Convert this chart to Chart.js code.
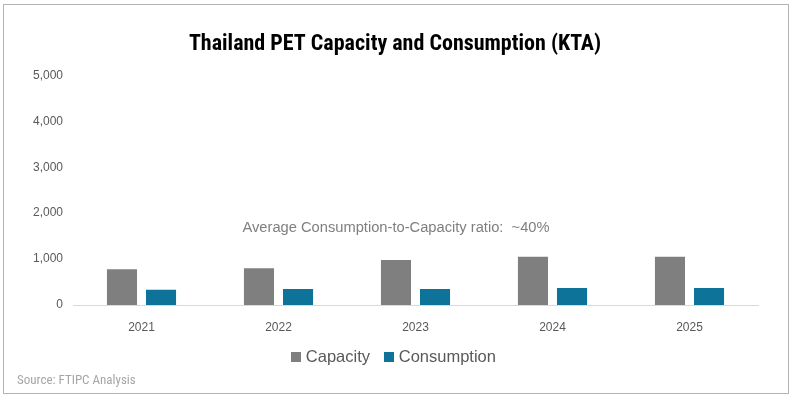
<!DOCTYPE html>
<html>
<head>
<meta charset="utf-8">
<script src="https://cdn.jsdelivr.net/npm/chart.js@4"></script>
<style>
  html, body { margin: 0; padding: 0; background: #fff; }
  #wrap { width: 792px; height: 397px; position: relative; }
</style>
</head>
<body>
<div id="wrap"><canvas id="c" width="792" height="397"></canvas></div>
<script>
// ---- data ----
const categories = ["2021", "2022", "2023", "2024", "2025"];
const capacity = [780, 800, 980, 1050, 1050];
const consumption = [330, 350, 350, 370, 370];
const yTicks = [0, 1000, 2000, 3000, 4000, 5000];
const seriesNames = ["Capacity", "Consumption"];
const seriesColors = ["#7f7f7f", "#0e7398"];
const titleText = "Thailand PET Capacity and Consumption (KTA)";
const sourceText = "Source: FTIPC Analysis";
const annotationText = "Average Consumption-to-Capacity ratio:  ~40%";
const annotationValue = 1670;

const NARROW = "'Liberation Sans Narrow', 'Arial Narrow', 'Roboto Condensed', 'Liberation Sans', sans-serif";
const REG = "'Liberation Sans', Arial, sans-serif";

function swatch(color) {
  const c = document.createElement('canvas');
  c.width = 10; c.height = 10;
  const g = c.getContext('2d');
  g.fillStyle = color;
  g.fillRect(0, 0, 10, 10);
  return c;
}
const swatches = seriesColors.map(swatch);

const framePlugin = {
  id: 'frame',
  beforeDraw(chart) {
    const ctx = chart.ctx;
    ctx.save();
    ctx.fillStyle = '#ffffff';
    ctx.fillRect(0, 0, chart.width, chart.height);
    ctx.strokeStyle = '#b4b4b4';
    ctx.lineWidth = 1;
    ctx.strokeRect(3.5, 4.5, 785, 389);
    ctx.restore();
  },
  afterDraw(chart) {
    const ctx = chart.ctx;
    ctx.save();
    ctx.font = "13px " + NARROW;
    ctx.fillStyle = '#a6a6a6';
    ctx.textAlign = 'left';
    ctx.textBaseline = 'middle';
    ctx.fillText(sourceText, 17, 381);
    ctx.restore();
  }
};

const annotationPlugin = {
  id: 'ratioNote',
  afterDatasetsDraw(chart) {
    const ctx = chart.ctx;
    const y = chart.scales.y.getPixelForValue(annotationValue);
    ctx.save();
    ctx.font = "14.7px " + REG;
    ctx.fillStyle = '#7f7f7f';
    ctx.textAlign = 'center';
    ctx.textBaseline = 'middle';
    ctx.fillText(annotationText, chart.width / 2, y);
    ctx.restore();
  }
};

new Chart(document.getElementById('c'), {
  type: 'bar',
  data: {
    labels: categories,
    datasets: [
      { label: seriesNames[0], data: capacity, backgroundColor: seriesColors[0], borderWidth: 0,
        categoryPercentage: 0.57, barPercentage: 0.77 },
      { label: seriesNames[1], data: consumption, backgroundColor: seriesColors[1], borderWidth: 0,
        categoryPercentage: 0.57, barPercentage: 0.77 }
    ]
  },
  options: {
    responsive: false,
    devicePixelRatio: 1,
    animation: false,
    layout: { padding: { left: 32, right: 34, top: 0, bottom: 21.5 } },
    plugins: {
      title: {
        display: true,
        text: titleText,
        color: '#000000',
        font: { family: NARROW, size: 22, weight: 'bold' },
        padding: { top: 31, bottom: 18 }
      },
      legend: {
        display: true,
        position: 'bottom',
        labels: {
          usePointStyle: true,
          pointStyleWidth: 3.5,
          boxWidth: 10,
          boxHeight: 10,
          padding: 17,
          color: '#595959',
          font: { family: REG, size: 16.5 },
          generateLabels(chart) {
            const items = Chart.defaults.plugins.legend.labels.generateLabels(chart);
            items.forEach((it, i) => { it.pointStyle = swatches[i]; it.lineWidth = 0; });
            return items;
          }
        }
      },
      tooltip: { enabled: false }
    },
    scales: {
      x: {
        afterFit(scale) { scale.height = 27; },
        grid: { display: false, drawTicks: false },
        border: { display: true, color: '#d9d9d9', width: 1 },
        ticks: { color: '#595959', font: { family: REG, size: 12 }, padding: 15 }
      },
      y: {
        min: 0,
        max: 5000,
        afterFit(scale) { scale.width = 41; },
        afterBuildTicks(scale) { scale.ticks = yTicks.map(v => ({ value: v })); },
        grid: { display: false, drawTicks: false },
        border: { display: false },
        ticks: {
          color: '#595959',
          font: { family: REG, size: 12 },
          padding: 10,
          callback: (v) => Number(v).toLocaleString('en-US')
        }
      }
    }
  },
  plugins: [framePlugin, annotationPlugin]
});
</script>
</body>
</html>
